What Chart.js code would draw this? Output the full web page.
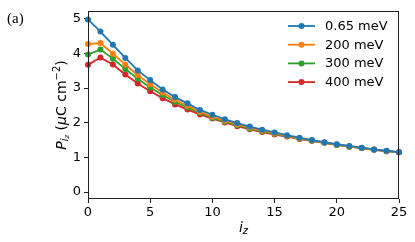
<!DOCTYPE html>
<html><head><meta charset="utf-8">
<script src="https://cdn.jsdelivr.net/npm/chart.js@4.4.1/dist/chart.umd.min.js"></script>
<style>html,body{margin:0;padding:0;background:#fff}#wrap{width:415px;height:242px;position:relative}</style>
</head><body><div id="wrap"><canvas id="c"></canvas></div>
<script>
const iz = [0,1,2,3,4,5,6,7,8,9,10,11,12,13,14,15,16,17,18,19,20,21,22,23,24,25];
const labels = ['0.65 meV','200 meV','300 meV','400 meV'];
const colors = ['#1f77b4','#ff7f0e','#2ca02c','#d62728'];
const p065 = [4.98,4.63,4.25,3.87,3.51,3.23,2.96,2.74,2.56,2.37,2.23,2.10,1.99,1.89,1.80,1.72,1.64,1.57,1.50,1.44,1.38,1.33,1.28,1.23,1.19,1.15];
const p200 = [4.27,4.30,3.99,3.68,3.37,3.11,2.87,2.66,2.49,2.32,2.17,2.06,1.95,1.86,1.77,1.69,1.62,1.55,1.49,1.43,1.37,1.32,1.27,1.23,1.18,1.15];
const p300 = [3.97,4.11,3.85,3.55,3.27,3.02,2.80,2.60,2.44,2.29,2.14,2.03,1.93,1.83,1.75,1.68,1.61,1.54,1.48,1.42,1.36,1.31,1.27,1.22,1.18,1.15];
const p400 = [3.67,3.88,3.68,3.39,3.13,2.91,2.71,2.53,2.38,2.24,2.12,2.01,1.90,1.81,1.73,1.66,1.60,1.53,1.48,1.42,1.36,1.31,1.27,1.22,1.18,1.15];
const yTicks = [0,1,2,3,4,5];
const xTicks = [0,5,10,15,20,25];
const series = [p065,p200,p300,p400];

const FONT = 'DejaVu Sans';
const datasets = series.map((s,i)=>({
  label: labels[i],
  data: s.map((v,j)=>({x: iz[j], y: v})),
  borderColor: colors[i], backgroundColor: colors[i],
  borderWidth: 1.8, pointRadius: 3, pointHoverRadius: 3, pointBorderWidth: 0,
  tension: 0, clip: 4
}));

function drawRich(ctx, segs, x, y, align) {
  let w = 0;
  segs.forEach(s=>{ctx.font=(s.it?'italic ':'')+s.size+'px "'+FONT+'"'; s.w=ctx.measureText(s.t).width; w+=s.w;});
  let cx = align==='center' ? x - w/2 : x;
  segs.forEach(s=>{ctx.font=(s.it?'italic ':'')+s.size+'px "'+FONT+'"'; ctx.fillText(s.t, cx, y + s.dy); cx += s.w;});
}

const decor = {
  id:'decor',
  afterDraw(chart){
    const ctx = chart.ctx, a = chart.chartArea;
    ctx.save();
    ctx.strokeStyle = '#222'; ctx.lineWidth = 1;
    ctx.strokeRect(Math.round(a.left)+0.5, Math.round(a.top)+0.5, Math.round(a.right-a.left)-1, Math.round(a.bottom-a.top)-1);
    ctx.fillStyle = '#000'; ctx.textBaseline = 'middle';
    labels.forEach((l,i)=>{
      const y = 26 + i*18.7;
      ctx.strokeStyle = colors[i]; ctx.lineWidth = 1.8;
      ctx.beginPath(); ctx.moveTo(288,y); ctx.lineTo(315,y); ctx.stroke();
      ctx.fillStyle = colors[i]; ctx.beginPath(); ctx.arc(301.5,y,3,0,Math.PI*2); ctx.fill();
      ctx.fillStyle = '#000'; ctx.font = '13px "'+FONT+'"'; ctx.textAlign='left';
      ctx.fillText(l, 325, y+0.5);
    });
    ctx.textAlign='left';
    drawRich(ctx,[{t:'i',size:14,dy:0,it:true},{t:'z',size:10,dy:3,it:true}], (a.left+a.right)/2, 228, 'center');
    ctx.save();
    ctx.translate(62, 105);
    ctx.rotate(-Math.PI/2);
    drawRich(ctx,[
      {t:'P',size:14,dy:0,it:true},{t:'i',size:10,dy:3,it:true},{t:'z',size:7,dy:5,it:true},
      {t:' (',size:14,dy:0,it:false},{t:'\u03bc',size:14,dy:0,it:true},{t:'C cm',size:14,dy:0,it:false},{t:'\u22122',size:10,dy:-5,it:false},{t:')',size:14,dy:0,it:false}
    ], 0, 0, 'center');
    ctx.restore();
    ctx.font = '15px "Liberation Serif"'; ctx.textAlign='left';
    ctx.fillText('(a)', 7, 19);
    ctx.restore();
  }
};

new Chart(document.getElementById('c'), {
  type:'line',
  data:{datasets},
  options:{
    responsive:true, maintainAspectRatio:false, animation:false,
    layout:{padding:{left:0,top:9,right:16,bottom:0}},
    plugins:{legend:{display:false}, tooltip:{enabled:false}},
    scales:{
      x:{type:'linear', min:0, max:25,
        afterBuildTicks(s){ s.ticks = xTicks.map(v=>({value:v})); },
        afterFit(s){ s.height = 43; },
        grid:{display:true, drawOnChartArea:false, drawTicks:true, tickLength:4, color:'#222', lineWidth:1},
        border:{display:false},
        ticks:{font:{family:FONT,size:13}, color:'#000', padding:2, maxRotation:0}
      },
      y:{type:'linear', min:-0.2, max:5.23,
        afterBuildTicks(s){ s.ticks = yTicks.map(v=>({value:v})); },
        afterFit(s){ s.width = 88; },
        grid:{display:true, drawOnChartArea:false, drawTicks:true, tickLength:4, color:'#222', lineWidth:1},
        border:{display:false},
        ticks:{font:{family:FONT,size:13}, color:'#000', padding:3}
      }
    }
  },
  plugins:[decor]
});
</script></body></html>
